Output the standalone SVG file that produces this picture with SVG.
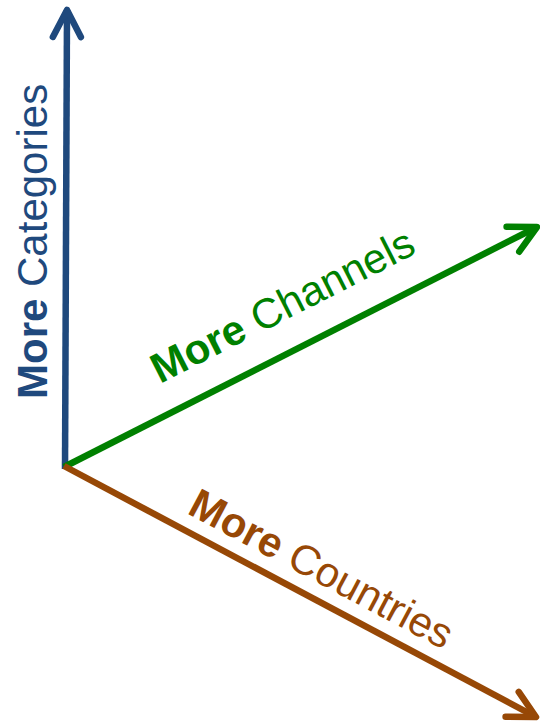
<svg xmlns="http://www.w3.org/2000/svg" width="540" height="723" viewBox="0 0 540 723">
<style>
.ax{fill:none;stroke-width:6.5;stroke-linecap:butt}
.lbl{font-family:"Liberation Sans",Arial,sans-serif;font-size:42px}
.b{font-weight:bold}
</style>
<defs>
<marker id="hb" markerUnits="userSpaceOnUse" orient="auto" markerWidth="60" markerHeight="60" refX="30" refY="30" viewBox="0 0 60 60" overflow="visible"><path d="M3,16 L30,30 L3,44" fill="none" stroke="#1F497D" stroke-width="6.5" stroke-linecap="round" stroke-linejoin="round"/></marker>
<marker id="hg" markerUnits="userSpaceOnUse" orient="auto" markerWidth="60" markerHeight="60" refX="30" refY="30" viewBox="0 0 60 60" overflow="visible"><path d="M3,16 L30,30 L3,44" fill="none" stroke="#008000" stroke-width="6.5" stroke-linecap="round" stroke-linejoin="round"/></marker>
<marker id="hr" markerUnits="userSpaceOnUse" orient="auto" markerWidth="60" markerHeight="60" refX="30" refY="30" viewBox="0 0 60 60" overflow="visible"><path d="M3,16 L30,30 L3,44" fill="none" stroke="#974806" stroke-width="6.5" stroke-linecap="round" stroke-linejoin="round"/></marker>
</defs>
<g id="connectors">
<line class="ax" x1="65" y1="469" x2="67" y2="10" stroke="#1F497D" marker-end="url(#hb)"/>
<line class="ax" x1="64" y1="467" x2="537" y2="227" stroke="#008000" marker-end="url(#hg)"/>
<line class="ax" x1="64" y1="466" x2="536" y2="717" stroke="#974806" marker-end="url(#hr)"/>
</g>
<g id="categories">
<text class="lbl" transform="translate(47,399) rotate(-90)" fill="#1F497D"><tspan class="b">More</tspan> Categories</text>
</g>
<g id="channels">
<text class="lbl" transform="translate(160,384) rotate(-27)" fill="#008000"><tspan class="b">More</tspan> Channels</text>
</g>
<g id="countries">
<text class="lbl" transform="translate(186,513) rotate(28)" fill="#974806"><tspan class="b">More</tspan> Countries</text>
</g>
</svg>
